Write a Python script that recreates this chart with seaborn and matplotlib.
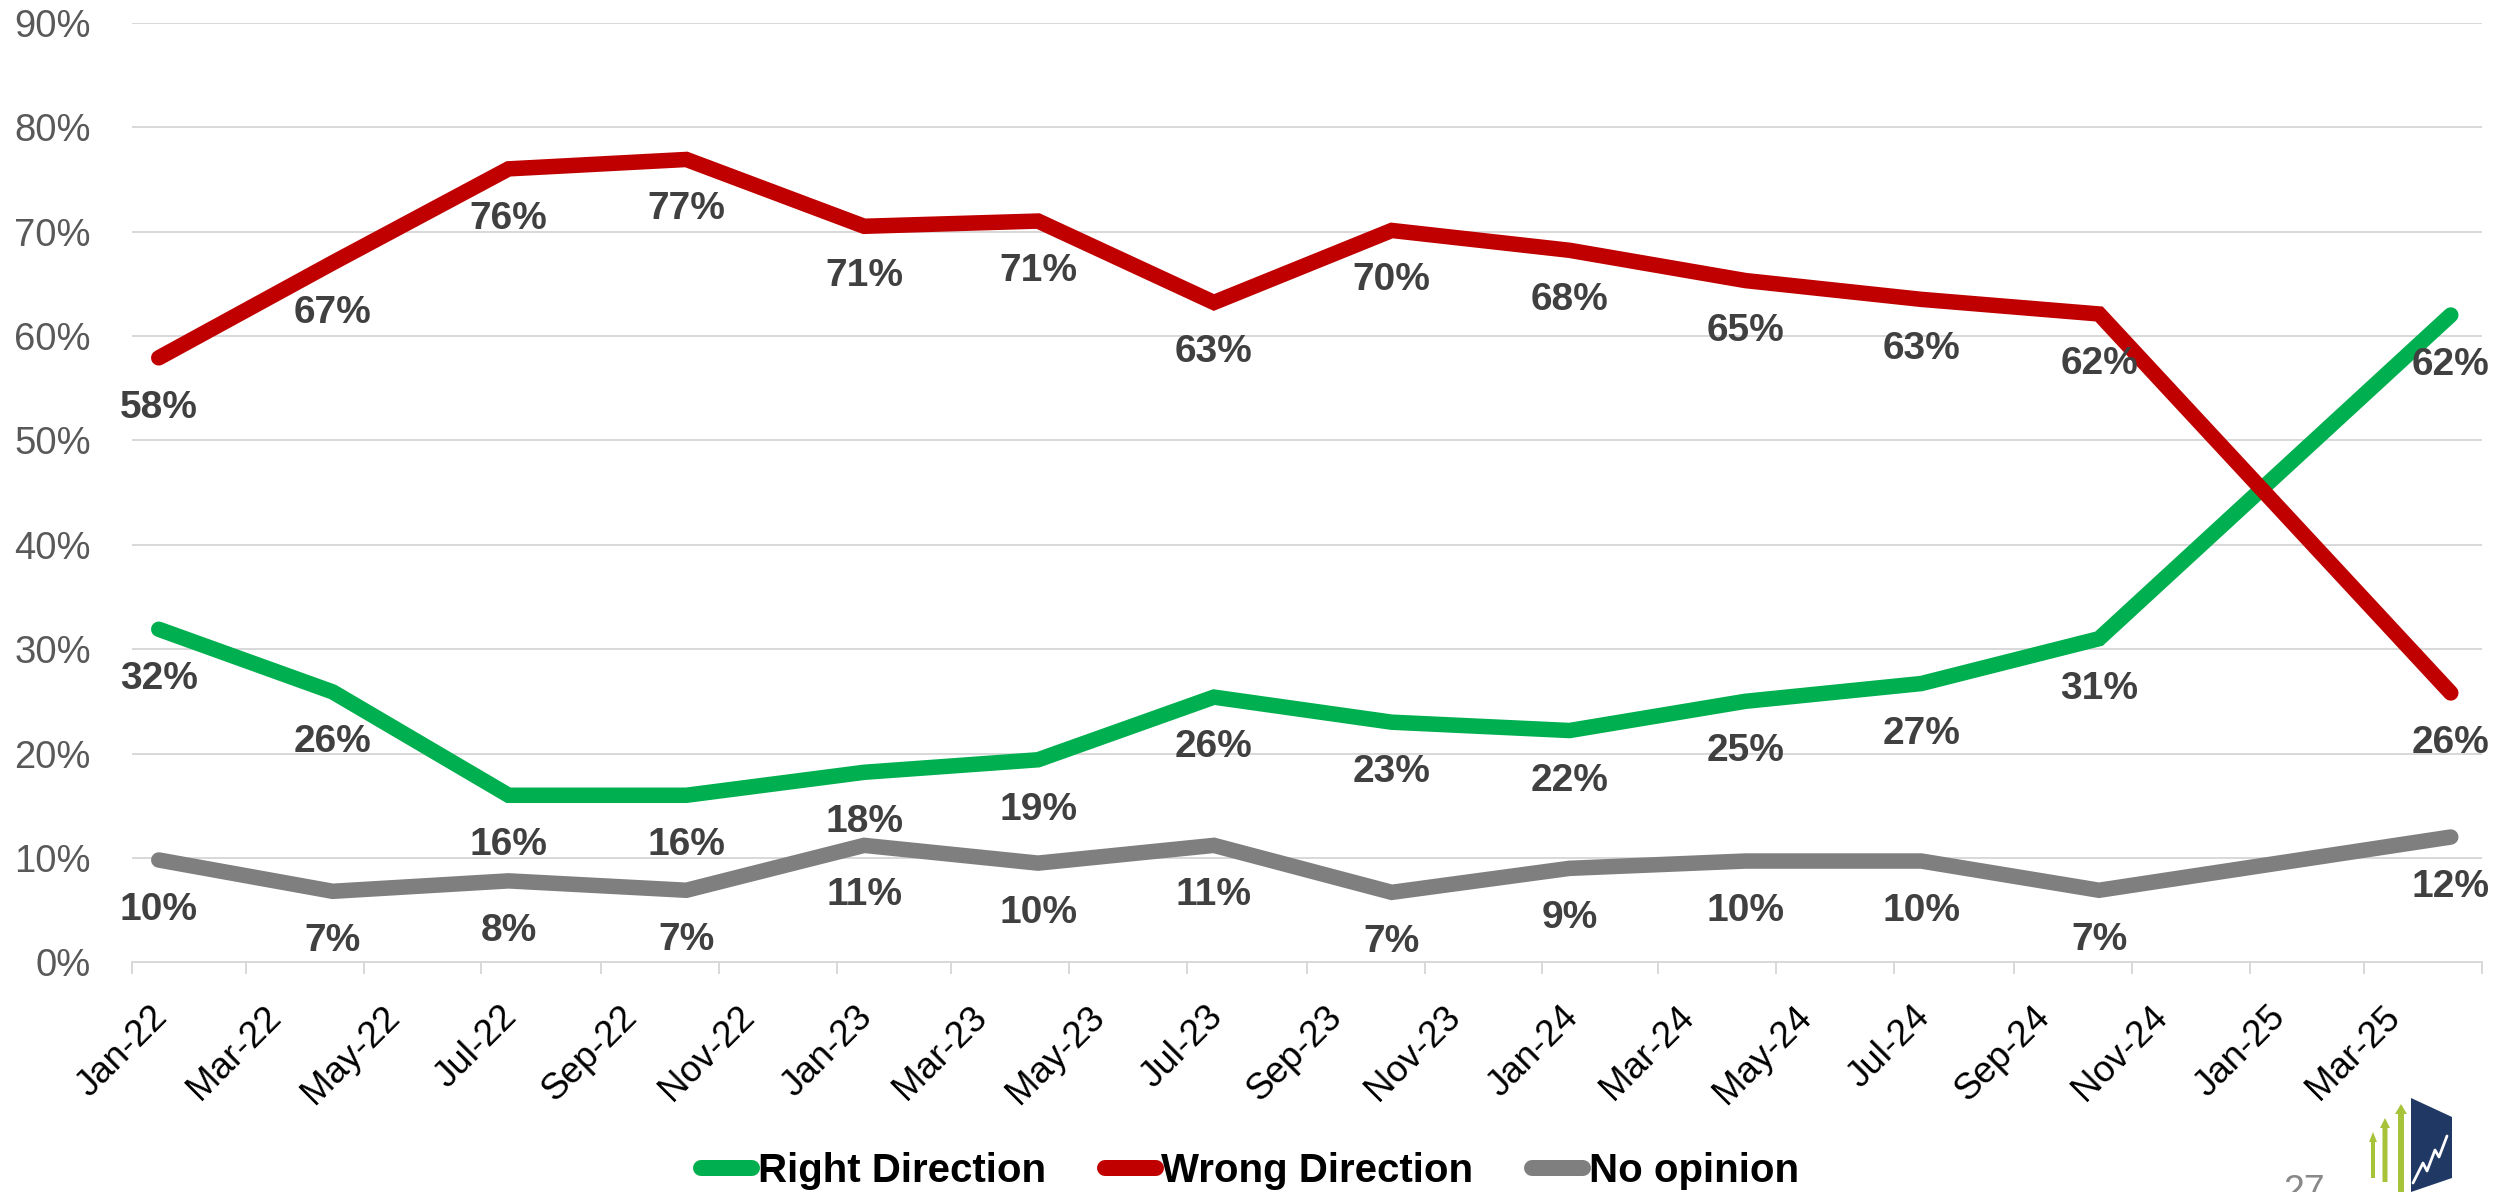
import matplotlib
matplotlib.use("Agg")
import matplotlib.pyplot as plt
import matplotlib.transforms as mtransforms
import matplotlib.dates as mdates
from matplotlib.lines import Line2D
from matplotlib.patches import Polygon
import pandas as pd
import seaborn as sns

# ---------------- data ----------------
survey_dates = ["2022-01-15", "2022-04-15", "2022-07-15", "2022-10-15",
                "2023-01-15", "2023-04-15", "2023-07-15", "2023-10-15",
                "2024-01-15", "2024-04-15", "2024-07-15", "2024-10-15",
                "2025-04-15"]
right_direction = [31.9, 25.9, 16.0, 16.0, 18.2, 19.4, 25.4, 23.0, 22.2, 25.0, 26.7, 31.0, 62.0]
wrong_direction = [57.9, 67.0, 76.0, 76.9, 70.5, 71.0, 63.2, 70.1, 68.2, 65.3, 63.5, 62.1, 25.8]
no_opinion = [9.8, 6.8, 7.8, 6.9, 11.2, 9.5, 11.2, 6.7, 9.0, 9.7, 9.7, 6.9, 12.0]
right_labels = [32, 26, 16, 16, 18, 19, 26, 23, 22, 25, 27, 31, 62]
wrong_labels = [58, 67, 76, 77, 71, 71, 63, 70, 68, 65, 63, 62, 26]
noop_labels = [10, 7, 8, 7, 11, 10, 11, 7, 9, 10, 10, 7, 12]
series_names = ["Right Direction", "Wrong Direction", "No opinion"]
series_colors = ["#00B050", "#C00000", "#7F7F7F"]

x_tick_dates = ["2022-01-01", "2022-03-01", "2022-05-01", "2022-07-01", "2022-09-01",
                "2022-11-01", "2023-01-01", "2023-03-01", "2023-05-01", "2023-07-01",
                "2023-09-01", "2023-11-01", "2024-01-01", "2024-03-01", "2024-05-01",
                "2024-07-01", "2024-09-01", "2024-11-01", "2025-01-01", "2025-03-01",
                "2025-05-01"]
x_tick_labels = ["Jan-22", "Mar-22", "May-22", "Jul-22", "Sep-22", "Nov-22",
                 "Jan-23", "Mar-23", "May-23", "Jul-23", "Sep-23", "Nov-23",
                 "Jan-24", "Mar-24", "May-24", "Jul-24", "Sep-24", "Nov-24",
                 "Jan-25", "Mar-25", ""]
y_ticks = [0, 10, 20, 30, 40, 50, 60, 70, 80, 90]
y_tick_labels = ["0%", "10%", "20%", "30%", "40%", "50%", "60%", "70%", "80%", "90%"]
page_number = "27"

# ---------------- style ----------------
sns.set_theme(style="white")
plt.rcParams["font.family"] = ["Liberation Sans", "DejaVu Sans"]

W_PX, H_PX, DPI = 2499, 1192, 100
PT = 72.0 / DPI  # points per pixel

fig = plt.figure(figsize=(W_PX / DPI, H_PX / DPI), dpi=DPI)
fig.patch.set_facecolor("white")

ax_l, ax_r, ax_t, ax_b = 131.7, 2481.7, 22.7, 962.3
ax = fig.add_axes([ax_l / W_PX, 1 - ax_b / H_PX, (ax_r - ax_l) / W_PX, (ax_b - ax_t) / H_PX])
ax.set_facecolor("white")

df = pd.DataFrame({
    "date": pd.to_datetime(survey_dates * 3),
    "value": right_direction + wrong_direction + no_opinion,
    "series": [n for n in series_names for _ in survey_dates],
})

sns.lineplot(data=df, x="date", y="value", hue="series", hue_order=series_names,
             palette=series_colors, estimator=None, sort=False, linewidth=15.5 * PT,
             solid_capstyle="round", solid_joinstyle="miter", legend=False, ax=ax)

# data labels (below every point)
dates_num = mdates.date2num(pd.to_datetime(survey_dates))
for vals, labs in zip([right_direction, wrong_direction, no_opinion],
                      [right_labels, wrong_labels, noop_labels]):
    for d, v, l in zip(dates_num, vals, labs):
        ax.annotate(f"{l}%", xy=(d, v), xytext=(0, -60 * PT), textcoords="offset points",
                    ha="center", va="baseline", fontsize=28, fontweight="bold",
                    color="#404040", annotation_clip=False)

# axes
ax.set_xlim(pd.Timestamp("2022-01-01"), pd.Timestamp("2025-05-01"))
ax.set_ylim(0, 90)
ax.set_yticks(y_ticks)
ax.set_yticklabels(y_tick_labels)
ax.set_xticks(pd.to_datetime(x_tick_dates))
ax.set_xticklabels(x_tick_labels, rotation=45, rotation_mode="anchor",
                   ha="right", va="baseline", fontsize=26.5, color="black")
ax.tick_params(axis="x", direction="out", length=12 * PT, width=2 * PT,
               color="#D9D9D9", pad=0, bottom=True)
ax.tick_params(axis="y", length=0, pad=41 * PT, labelsize=27.5, labelcolor="#595959")
offset = mtransforms.ScaledTranslation(37 / DPI, -44 / DPI, fig.dpi_scale_trans)
for lab in ax.get_xticklabels():
    lab.set_transform(lab.get_transform() + offset)
ax.set_xlabel("")
ax.set_ylabel("")
ax.grid(axis="y", color="#D9D9D9", linewidth=2 * PT)
ax.grid(axis="x", visible=False)
ax.set_axisbelow(True)
for s in ["top", "left", "right"]:
    ax.spines[s].set_visible(False)
ax.spines["bottom"].set_color("#D9D9D9")
ax.spines["bottom"].set_linewidth(2 * PT)

# legend
handles = [Line2D([], [], color=c, linewidth=16 * PT, solid_capstyle="round") for c in series_colors]
fig.legend(handles, series_names, loc="center", bbox_to_anchor=(1250 / W_PX, 1 - 1171 / H_PX),
           ncol=3, frameon=False, prop={"weight": "bold", "size": 29},
           handlelength=1.27, handletextpad=0.14, columnspacing=1.45,
           borderaxespad=0, borderpad=0, labelcolor="black")

# page number
fig.text(2304 / W_PX, 1 - 1174 / H_PX, page_number, ha="center", va="top",
         fontsize=27, color="#898989")


# logo (decoration)
def fp(x, y):
    return (x / W_PX, 1 - y / H_PX)


navy = Polygon([fp(2411, 1098), fp(2452, 1117), fp(2452, 1178), fp(2411, 1192)],
               closed=True, transform=fig.transFigure, facecolor="#1F3864", edgecolor="none")
fig.patches.append(navy)
zig_pts = [fp(2413, 1183), fp(2423, 1163), fp(2427, 1171), fp(2435, 1150),
           fp(2439, 1157), fp(2447, 1136)]
zig = Line2D([p[0] for p in zig_pts], [p[1] for p in zig_pts],
             transform=fig.transFigure, color="white", linewidth=2)
fig.lines.append(zig)
for cx, y0, y1, hw in [(2373, 1178, 1132, 4), (2385, 1182, 1118, 5), (2401, 1192, 1104, 6)]:
    shaft = Polygon([fp(cx - hw / 2, y0), fp(cx - hw / 2, y1 + 10), fp(cx - hw, y1 + 10),
                     fp(cx, y1), fp(cx + hw, y1 + 10), fp(cx + hw / 2, y1 + 10), fp(cx + hw / 2, y0)],
                    closed=True, transform=fig.transFigure, facecolor="#A6C33A", edgecolor="none")
    fig.patches.append(shaft)

fig.savefig("out.png", dpi=DPI, facecolor="white")
